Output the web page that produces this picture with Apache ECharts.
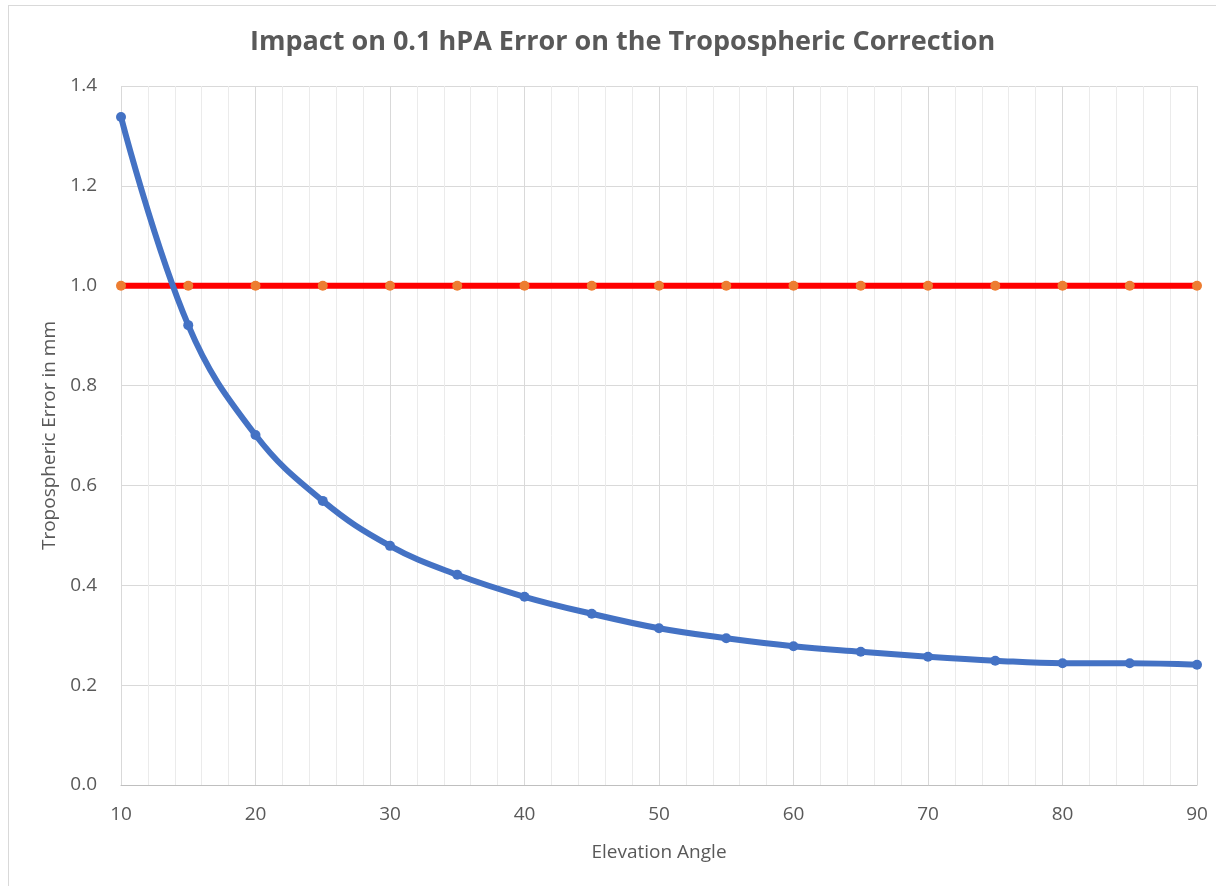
<!DOCTYPE html>
<html lang="en" style="height: 100%">
<head>
    <meta charset="utf-8">
    <title>Tropospheric Correction</title>
    <script src="https://cdn.jsdelivr.net/npm/echarts@6/dist/echarts.min.js"></script>
</head>
<body style="height: 100%; margin: 0; background: #fff">
    <div id="frame" style="position:absolute; left:8px; top:5px; right:0; bottom:0; border:1px solid #d9d9d9; border-right:none; border-bottom:none;"></div>
    <div id="main" style="position:absolute; left:0; top:0; width:1216px; height:886px"></div>
    <script type="text/javascript">
        // elevation angles (deg)
        var angles = [10, 15, 20, 25, 30, 35, 40, 45, 50, 55, 60, 65, 70, 75, 80, 85, 90];
        // tropospheric error in mm for 0.1 hPa
        var tropoError = [1.338, 0.921, 0.701, 0.569, 0.479, 0.421, 0.377, 0.343, 0.314, 0.294, 0.278, 0.267, 0.257, 0.249, 0.244, 0.244, 0.241];
        // 1 mm threshold
        var threshold = [1, 1, 1, 1, 1, 1, 1, 1, 1, 1, 1, 1, 1, 1, 1, 1, 1];

        function pairs(xs, ys) {
            return xs.map(function (x, i) { return [x, ys[i]]; });
        }

        var myChart = echarts.init(document.getElementById('main'));

        var textColor = '#595959';
        var font = 'Open Sans';

        var option = {
            animation: false,
            title: {
                text: 'Impact on 0.1 hPA Error on the Tropospheric Correction',
                left: 245,
                top: 24,
                textStyle: { fontFamily: font, fontSize: 27, fontWeight: 'bold', color: textColor }
            },
            grid: { left: 121, right: 19, top: 86, bottom: 101 },
            xAxis: {
                type: 'value',
                min: 10, max: 90, interval: 10,
                name: 'Elevation Angle',
                nameLocation: 'middle',
                nameGap: 58,
                nameTextStyle: { fontFamily: font, fontSize: 19, color: textColor },
                axisLine: { show: true, lineStyle: { color: '#bfbfbf', width: 1 } },
                axisTick: { show: false },
                axisLabel: { fontFamily: font, fontSize: 19, color: textColor, margin: 20 },
                splitLine: { show: true, lineStyle: { color: '#d9d9d9', width: 1 } },
                minorTick: { show: false, splitNumber: 5 },
                minorSplitLine: { show: true, lineStyle: { color: '#ebebeb', width: 1 } }
            },
            yAxis: {
                type: 'value',
                min: 0, max: 1.4, interval: 0.2,
                name: 'Tropospheric Error in mm',
                nameLocation: 'middle',
                nameGap: 62,
                nameTextStyle: { fontFamily: font, fontSize: 19, color: textColor },
                axisLine: { show: false },
                axisTick: { show: false },
                axisLabel: {
                    fontFamily: font, fontSize: 19, color: textColor, margin: 24,
                    formatter: function (v) { return v.toFixed(1); }
                },
                splitLine: { show: true, lineStyle: { color: '#d9d9d9', width: 1 } }
            },
            series: [
                {
                    name: 'Threshold',
                    type: 'line',
                    data: pairs(angles, threshold),
                    symbol: 'circle',
                    symbolSize: 10,
                    lineStyle: { color: '#ff0000', width: 6 },
                    itemStyle: { color: '#ed7d31' },
                    z: 2
                },
                {
                    name: 'Error',
                    type: 'line',
                    data: pairs(angles, tropoError),
                    smooth: 0.4,
                    symbol: 'circle',
                    symbolSize: 10,
                    lineStyle: { color: '#4472c4', width: 6 },
                    itemStyle: { color: '#4472c4' },
                    z: 3
                }
            ]
        };

        myChart.setOption(option);
    </script>
</body>
</html>
